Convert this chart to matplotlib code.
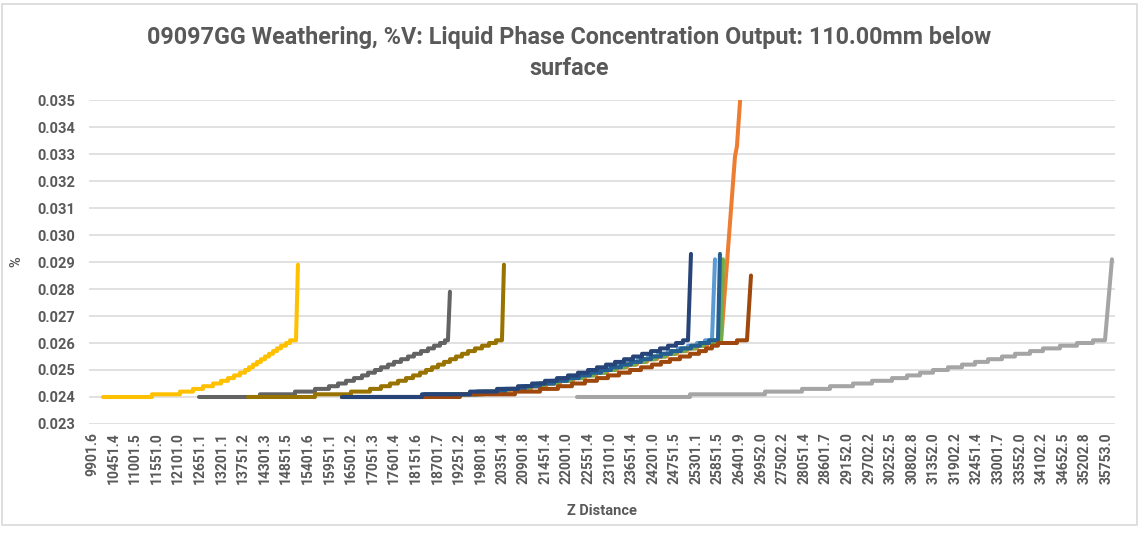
import matplotlib
matplotlib.use("Agg")
import matplotlib.pyplot as plt
from matplotlib.patches import Rectangle

plt.rcParams['font.family'] = ['Roboto', 'DejaVu Sans']

# Z distance tick labels shown on the category axis
tick_labels = ['9901.6', '10451.4', '11001.5', '11551.0', '12101.0', '12651.1',
               '13201.1', '13751.2', '14301.3', '14851.5', '15401.6', '15951.1',
               '16501.2', '17051.3', '17601.4', '18151.6', '18701.7', '19251.2',
               '19801.8', '20351.4', '20901.8', '21451.4', '22001.0', '22551.4',
               '23101.0', '23651.4', '24201.0', '24751.5', '25301.1', '25851.5',
               '26401.9', '26952.0', '27502.2', '28051.4', '28601.7', '29152.0',
               '29702.2', '30252.5', '30802.8', '31352.0', '31902.2', '32451.4',
               '33001.7', '33552.0', '34102.2', '34652.5', '35202.8', '35753.0']

# concentration levels the curves step through (%)
levels = [0.0240, 0.0241, 0.0242, 0.0243, 0.0244, 0.0245, 0.0246, 0.0247,
          0.0248, 0.0249, 0.0250, 0.0251, 0.0252, 0.0253, 0.0254, 0.0255,
          0.0256, 0.0257, 0.0258, 0.0259, 0.0260, 0.0261]

# Z distance at which each series reaches each level
light_blue_z = [16272, 18361, 19686, 20348, 20858, 21240, 21597, 21928, 22234, 22514, 22795,
                23050, 23304, 23559, 23814, 24069, 24323, 24578, 24833, 25088, 25317, 25521]
orange_z = [16272, 18514, 19890, 20578, 21087, 21470, 21826, 22158, 22463, 22744, 23024,
            23279, 23533, 23788, 24043, 24298, 24553, 24807, 25062, 25317, 25572]
light_gray_z = [22259, 25139, 27050, 27992, 28706, 29292, 29776, 30286, 30668, 30999, 31330,
                31712, 32069, 32400, 32732, 33088, 33420, 33802, 34133, 34566, 34999, 35407]
yellow_z = [10182, 11430, 12144, 12475, 12730, 12985, 13189, 13367, 13520, 13673, 13800,
            13902, 14004, 14106, 14208, 14310, 14412, 14514, 14615, 14717, 14845, 14947]
green_z = [16272, 18463, 19839, 20501, 21036, 21419, 21775, 22107, 22412, 22693, 22973,
           23228, 23482, 23737, 23992, 24247, 24502, 24756, 25011, 25266, 25495, 25725]
blue_z = [16272, 18386, 19737, 20425, 20934, 21317, 21673, 22005, 22310, 22591, 22871,
          23126, 23381, 23635, 23890, 24145, 24400, 24655, 24909, 25164, 25393, 25623]
brown_z = [16272, 19278, 20680, 21317, 21775, 22132, 22463, 22769, 23049, 23330, 23610,
           23890, 24170, 24400, 24629, 24884, 25139, 25368, 25546, 25699, 25852, 26336]
dark_gray_z = [12628, 14182, 15074, 15584, 15940, 16170, 16374, 16577, 16781, 16934, 17112,
               17265, 17444, 17597, 17775, 17953, 18106, 18285, 18463, 18616, 18769, 18896]
olive_z = [13877, 15584, 16501, 16985, 17265, 17495, 17698, 17902, 18081, 18259, 18412,
           18565, 18718, 18871, 19023, 19176, 19329, 19482, 19660, 19839, 20017, 20196]
navy_z = [16272, 18310, 19533, 20221, 20756, 21113, 21444, 21750, 22030, 22285, 22540,
          22769, 22998, 23228, 23457, 23686, 23916, 24145, 24374, 24578, 24782, 24960]

# end of last level, then the final points of each series (z, %)
light_blue_tail = [(25699, 0.0261), (25776, 0.0291)]
orange_tail = [(25928, 0.0260), (26285, 0.0329), (26336, 0.0333), (26464, 0.0360)]
light_gray_tail = [(35713, 0.0261), (35891, 0.0291)]
yellow_tail = [(15100, 0.0261), (15150, 0.0289)]
green_tail = [(25928, 0.0261), (25980, 0.0291)]
blue_tail = [(25852, 0.0261), (25903, 0.0293)]
brown_tail = [(26591, 0.0261), (26693, 0.0285)]
dark_gray_tail = [(18972, 0.0261), (19023, 0.0279)]
olive_tail = [(20348, 0.0261), (20399, 0.0289)]
navy_tail = [(25088, 0.0261), (25164, 0.0293)]

series = [
    (light_blue_z, light_blue_tail, '#5B9BD5'),
    (orange_z, orange_tail, '#ED7D31'),
    (light_gray_z, light_gray_tail, '#A5A5A5'),
    (yellow_z, yellow_tail, '#FFC000'),
    (green_z, green_tail, '#70AD47'),
    (blue_z, blue_tail, '#255E91'),
    (brown_z, brown_tail, '#9E480E'),
    (dark_gray_z, dark_gray_tail, '#636363'),
    (olive_z, olive_tail, '#997300'),
    (navy_z, navy_tail, '#264478'),
]


def stair(zs, tail):
    # staircase through the levels, ending with the tail points
    px, py = [], []
    for i, z in enumerate(zs):
        nxt = zs[i + 1] if i + 1 < len(zs) else tail[0][0]
        px += [z, nxt]
        py += [levels[i], levels[i]]
    for z, v in tail[1:]:
        px.append(z)
        py.append(v)
    return px, py


fig = plt.figure(figsize=(11.39, 5.34), dpi=100)
fig.patches.append(Rectangle((0.002, 0.017), 0.996, 0.975, transform=fig.transFigure,
                             fill=False, edgecolor='#D9D9D9', linewidth=1.2))
ax = fig.add_axes([0.0781, 0.206, 0.9009, 0.6067])

for zs, tail, color in series:
    x, y = stair(zs, tail)
    ax.plot(x, y, color=color, linewidth=2.9, solid_capstyle='round',
            solid_joinstyle='round')

ax.set_ylim(0.023, 0.035)
ax.set_xlim(9825, 35970)
ax.set_yticks([0.023 + 0.001 * i for i in range(13)])
ax.yaxis.set_major_formatter(matplotlib.ticker.FormatStrFormatter('%.3f'))
ax.set_xticks([float(t) for t in tick_labels])
ax.set_xticklabels(tick_labels, rotation=90)
ax.grid(axis='y', color='#D9D9D9', linewidth=1.1)
ax.set_axisbelow(True)
for s in ax.spines.values():
    s.set_visible(False)
ax.tick_params(axis='x', length=0, colors='#595959', labelsize=10, pad=6)
ax.tick_params(axis='y', length=0, colors='#595959', labelsize=10.5, pad=10)
for lab in ax.get_xticklabels() + ax.get_yticklabels():
    lab.set_fontweight('bold')

ax.set_xlabel('Z Distance', fontsize=10.5, fontweight='bold', color='#595959', labelpad=14)
ax.set_ylabel('%', fontsize=10.5, fontweight='bold', color='#595959', labelpad=10)

fig.text(0.5, 0.930, '09097GG Weathering, %V: Liquid Phase Concentration Output: 110.00mm below',
         ha='center', va='center', fontsize=16.8, fontweight='bold', color='#595959')
fig.text(0.5, 0.872, 'surface', ha='center', va='center', fontsize=16.8,
         fontweight='bold', color='#595959')

fig.savefig('out.png', dpi=100)
